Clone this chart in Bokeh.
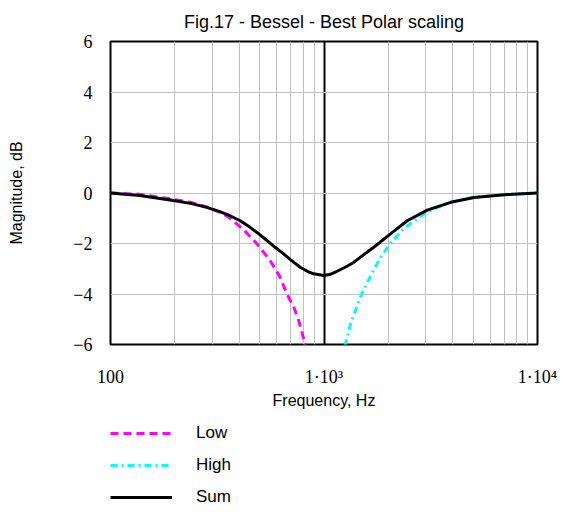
from bokeh.plotting import figure
from bokeh.models import FixedTicker, Legend, LegendItem
from bokeh.layouts import column
from bokeh.embed import file_html
from bokeh.resources import INLINE

# Data
freq_low = [100, 137, 197, 240, 282, 330, 363, 420, 484, 560, 624, 670, 721, 761, 817, 850]
low_db = [0, -0.05, -0.25, -0.38, -0.55, -0.78, -1.0, -1.45, -2.0, -2.68, -3.34, -4.0, -4.5, -5.05, -6.0, -6.6]

freq_high = [1180, 1259, 1329, 1483, 1650, 1839, 2048, 2366, 2938, 3400, 3918, 5043, 7230, 10000]
high_db = [-6.7, -6.0, -5.2, -4.1, -3.3, -2.55, -2.0, -1.4, -0.83, -0.57, -0.37, -0.17, -0.05, 0]

freq_sum = [100, 137, 197, 240, 282, 320, 363, 405, 451, 495, 540, 590, 647, 710, 774, 835, 894, 1000,
            1070, 1151, 1250, 1378, 1530, 1711, 2048, 2453, 3045, 3918, 5043, 7230, 10000]
sum_db = [0, -0.1, -0.3, -0.42, -0.57, -0.72, -0.9, -1.1, -1.36, -1.62, -1.88, -2.15, -2.41, -2.7, -2.94, -3.1, -3.2, -3.27,
          -3.22, -3.1, -2.95, -2.75, -2.45, -2.15, -1.62, -1.1, -0.68, -0.37, -0.18, -0.06, 0]

series_names = ["Low", "High", "Sum"]
x_ticks = [100, 1000, 10000]
x_tick_labels = ["100", "1·10³", "1·10⁴"]
x_minor = [200, 300, 400, 500, 600, 700, 800, 900,
           2000, 3000, 4000, 5000, 6000, 7000, 8000, 9000]
y_ticks = [-6, -4, -2, 0, 2, 4, 6]
y_tick_labels = ["−6", "−4", "−2", "0", "2", "4", "6"]

styles = [dict(line_color="#FF00FF", line_width=3, line_dash="8 5"),
          dict(line_color="#00FFFF", line_width=3, line_dash="7 4 2 4"),
          dict(line_color="black", line_width=3)]
series = [(freq_low, low_db), (freq_high, high_db), (freq_sum, sum_db)]

p = figure(width=564, height=414, x_axis_type="log",
           x_range=(100, 10000), y_range=(-6, 6),
           output_backend="svg", toolbar_location=None,
           title="Fig.17 - Bessel - Best Polar scaling",
           min_border_left=110, min_border_right=27,
           min_border_top=41, min_border_bottom=70)

p.title.align = "center"
p.title.text_font = "Liberation Sans"
p.title.text_font_size = "18px"
p.title.text_font_style = "normal"
p.title.text_color = "black"
p.title.offset = 0
p.title.standoff = 19

p.xaxis.ticker = FixedTicker(ticks=x_ticks, minor_ticks=x_minor)
p.xaxis.major_label_overrides = {t: l for t, l in zip(x_ticks, x_tick_labels)}
p.yaxis.ticker = FixedTicker(ticks=y_ticks)
p.yaxis.major_label_overrides = {t: l for t, l in zip(y_ticks, y_tick_labels)}

for ax in (p.xaxis, p.yaxis):
    ax.axis_line_color = None
    ax.major_tick_line_color = None
    ax.minor_tick_line_color = None
    ax.major_label_text_font = "Liberation Serif"
    ax.major_label_text_font_size = "18px"
    ax.major_label_text_color = "black"
    ax.axis_label_text_font = "Liberation Sans"
    ax.axis_label_text_font_size = "16px"
    ax.axis_label_text_font_style = "normal"
    ax.axis_label_text_color = "black"

p.xaxis.axis_label = "Frequency, Hz"
p.xaxis.major_label_standoff = 16
p.xaxis.axis_label_standoff = 2
p.yaxis.axis_label = "Magnitude, dB"
p.yaxis.major_label_standoff = 12
p.yaxis.axis_label_standoff = 45

p.xgrid.grid_line_color = "black"
p.xgrid.grid_line_width = 2
p.xgrid.minor_grid_line_color = "#c0c0c0"
p.xgrid.minor_grid_line_width = 1
p.ygrid.grid_line_color = "#c0c0c0"
p.ygrid.grid_line_width = 1

p.outline_line_color = "black"
p.outline_line_width = 2

for (fx, fy), st in zip(series, styles):
    p.line(fx, fy, **st)

# Legend panel below the chart (its frame is aligned with the chart's frame)
p2 = figure(width=564, height=100, x_range=(0, 1), y_range=(0, 1),
            output_backend="svg", toolbar_location=None,
            x_axis_location=None, y_axis_location=None,
            min_border=0, min_border_left=0, min_border_right=0,
            min_border_top=0, min_border_bottom=0)
p2.grid.visible = False
p2.outline_line_color = None

items = []
for name, (fx, fy), st in zip(series_names, series, styles):
    r = p2.line(fx, fy, **st)  # outside this panel's ranges; used only as legend keys
    items.append(LegendItem(label=name, renderers=[r]))

legend = Legend(items=items, location=(0, 2))
legend.background_fill_alpha = 0
legend.border_line_color = None
legend.label_text_font = "Liberation Sans"
legend.label_text_font_size = "17px"
legend.label_text_color = "black"
legend.glyph_width = 62
legend.glyph_height = 30
legend.label_height = 30
legend.label_standoff = 24
legend.spacing = 2
legend.padding = 0
legend.margin = 0
p2.add_layout(legend, "center")

open("out.html", "w").write(file_html(column(p, p2, spacing=0), INLINE))
